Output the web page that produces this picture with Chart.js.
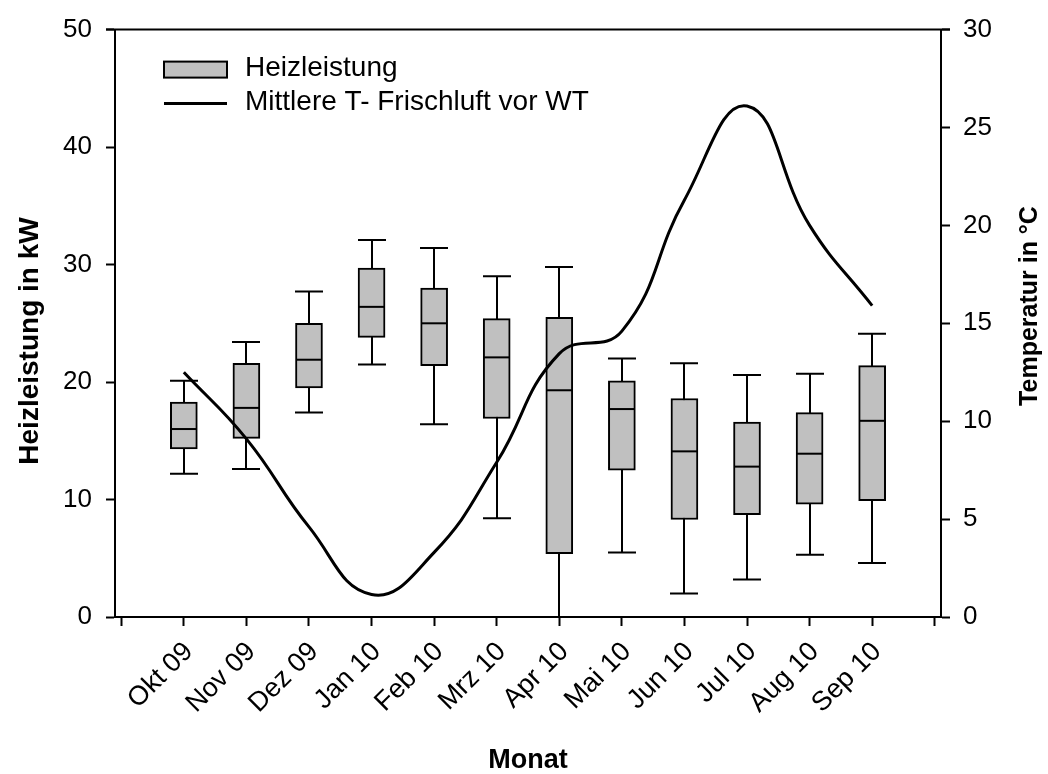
<!DOCTYPE html>
<html>
<head>
<meta charset="utf-8">
<script src="https://cdn.jsdelivr.net/npm/chart.js@4"></script>
<style>
  body { margin: 0; background: #fff; }
</style>
</head>
<body>
<canvas id="chart" width="1048" height="774"></canvas>
<script>
// data
const months = ['Okt 09', 'Nov 09', 'Dez 09', 'Jan 10', 'Feb 10', 'Mrz 10', 'Apr 10', 'Mai 10', 'Jun 10', 'Jul 10', 'Aug 10', 'Sep 10'];
const whiskerLow  = [12.2, 12.6, 17.4, 21.5, 16.4,  8.4,  0.0,  5.5,  2.0,  3.2,  5.3,  4.6];
const boxLow      = [14.3, 15.2, 19.5, 23.8, 21.4, 16.9,  5.4, 12.5,  8.3,  8.7,  9.6,  9.9];
const median      = [16.0, 17.8, 21.9, 26.4, 25.0, 22.1, 19.3, 17.7, 14.1, 12.8, 13.9, 16.7];
const boxHigh     = [18.3, 21.6, 25.0, 29.7, 28.0, 25.4, 25.5, 20.1, 18.6, 16.6, 17.4, 21.4];
const whiskerHigh = [20.1, 23.4, 27.7, 32.1, 31.4, 29.0, 29.8, 22.0, 21.6, 20.6, 20.7, 24.1];
const temperature = [12.5, 9.1, 4.6, 1.15, 3.3, 7.9, 13.45, 14.6, 21.3, 26.1, 20.0, 15.9];

const font = 'Liberation Sans, Arial, sans-serif';

// whiskers behind the boxes, medians on top
const boxPlotPlugin = {
  id: 'boxPlot',
  beforeDatasetDraw(chart, args) {
    if (args.index !== 0) return;
    const ctx = chart.ctx, x = chart.scales.x, y = chart.scales.y;
    ctx.save();
    ctx.strokeStyle = '#000';
    ctx.lineWidth = 2;
    months.forEach((m, i) => {
      const px = Math.round(x.getPixelForValue(i + 1));
      const top = y.getPixelForValue(whiskerHigh[i]);
      const bot = y.getPixelForValue(whiskerLow[i]);
      ctx.beginPath();
      ctx.moveTo(px, top); ctx.lineTo(px, bot);
      ctx.moveTo(px - 14, top); ctx.lineTo(px + 14, top);
      ctx.moveTo(px - 14, bot); ctx.lineTo(px + 14, bot);
      ctx.stroke();
    });
    ctx.restore();
  },
  afterDatasetDraw(chart, args) {
    if (args.index !== 0) return;
    const ctx = chart.ctx, x = chart.scales.x, y = chart.scales.y;
    ctx.save();
    ctx.strokeStyle = '#000';
    ctx.lineWidth = 2;
    months.forEach((m, i) => {
      const px = Math.round(x.getPixelForValue(i + 1));
      const py = y.getPixelForValue(median[i]);
      ctx.beginPath();
      ctx.moveTo(px - 13, py); ctx.lineTo(px + 13, py);
      ctx.stroke();
    });
    ctx.restore();
  }
};

// top frame line, legend inside the plot, both y titles (read bottom to top)
const extrasPlugin = {
  id: 'extras',
  afterDraw(chart) {
    const ctx = chart.ctx, a = chart.chartArea;
    const ds = chart.data.datasets;
    ctx.save();
    ctx.strokeStyle = '#000';
    ctx.lineWidth = 2;
    ctx.beginPath();
    ctx.moveTo(a.left - 9, a.top); ctx.lineTo(a.right + 9, a.top);
    ctx.stroke();

    // legend
    const lx = a.left + 49;
    ctx.fillStyle = ds[0].backgroundColor;
    ctx.fillRect(lx, a.top + 32, 63, 16);
    ctx.strokeRect(lx, a.top + 32, 63, 16);
    ctx.lineWidth = 3;
    ctx.beginPath();
    ctx.moveTo(lx, a.top + 74); ctx.lineTo(lx + 63, a.top + 74);
    ctx.stroke();
    ctx.fillStyle = '#000';
    ctx.font = '28px ' + font;
    ctx.textBaseline = 'middle';
    ctx.fillText(ds[0].label, lx + 81, a.top + 39);
    ctx.fillText(ds[1].label, lx + 81, a.top + 73);

    ctx.textAlign = 'center';
    ctx.save();
    ctx.font = 'bold 28px ' + font;
    ctx.translate(30, 341);
    ctx.rotate(-Math.PI / 2);
    ctx.fillText('Heizleistung in kW', 0, 0);
    ctx.restore();

    ctx.font = 'bold 25px ' + font;
    ctx.translate(1030, 306);
    ctx.rotate(-Math.PI / 2);
    ctx.fillText('Temperatur in °C', 0, 0);
    ctx.restore();
  }
};

const tickGrid = { drawOnChartArea: false, drawTicks: true, offset: false, tickLength: 9, tickColor: '#000', tickWidth: 2 };
const axisBorder = { display: true, color: '#000', width: 2 };

new Chart(document.getElementById('chart'), {
  type: 'bar',
  data: {
    datasets: [{
      type: 'bar',
      label: 'Heizleistung',
      data: months.map((m, i) => ({ x: i + 1, y: [boxLow[i], boxHigh[i]] })),
      backgroundColor: '#c0c0c0',
      borderColor: '#000',
      borderWidth: 2,
      borderSkipped: false,
      barThickness: 27,
      yAxisID: 'y',
      order: 1
    }, {
      type: 'line',
      label: 'Mittlere T- Frischluft vor WT',
      data: months.map((m, i) => ({ x: i + 1, y: temperature[i] })),
      borderColor: '#000',
      borderWidth: 3,
      pointRadius: 0,
      tension: 0.45,
      fill: false,
      yAxisID: 'y1',
      order: 0
    }]
  },
  options: {
    responsive: false,
    animation: false,
    layout: { padding: { top: 25, left: 0, right: 0, bottom: 0 } },
    plugins: {
      legend: { display: false },
      tooltip: { enabled: false }
    },
    scales: {
      x: {
        type: 'linear',
        offset: false,
        min: -0.1,
        max: 13.1,
        grid: tickGrid,
        border: axisBorder,
        ticks: {
          stepSize: 1,
          includeBounds: false,
          autoSkip: false,
          minRotation: 45,
          maxRotation: 45,
          padding: 10,
          labelOffset: 5,
          color: '#000',
          font: { family: font, size: 27 },
          callback: v => months[v - 1] || ''
        },
        title: {
          display: true,
          text: 'Monat',
          color: '#000',
          font: { family: font, size: 27, weight: 'bold', lineHeight: 1 },
          padding: { top: 0, bottom: 0 }
        },
        afterFit: s => { s.height = 157; }
      },
      y: {
        position: 'left',
        min: 0,
        max: 50,
        grid: tickGrid,
        border: axisBorder,
        ticks: { stepSize: 10, padding: 14, color: '#000', font: { family: font, size: 26 } },
        afterFit: s => { s.width = 115; }
      },
      y1: {
        position: 'right',
        min: 0,
        max: 30,
        grid: tickGrid,
        border: axisBorder,
        ticks: { stepSize: 5, padding: 13, color: '#000', font: { family: font, size: 26 } },
        afterFit: s => { s.width = 107; }
      }
    }
  },
  plugins: [boxPlotPlugin, extrasPlugin]
});
</script>
</body>
</html>
